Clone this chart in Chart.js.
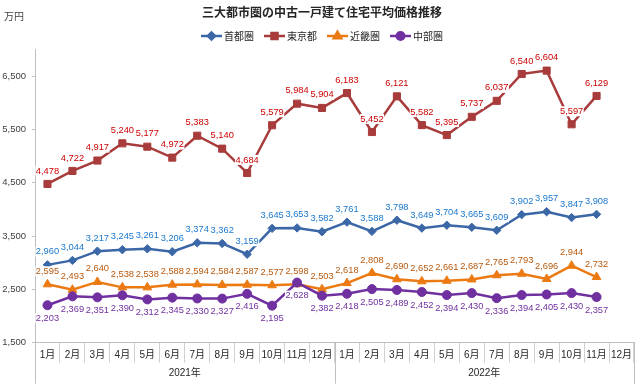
<!DOCTYPE html>
<html lang="ja">
<head>
<meta charset="UTF-8">
<title>三大都市圏の中古一戸建て住宅平均価格推移</title>
<script src="https://cdn.jsdelivr.net/npm/chart.js"></script>
<style>
  html, body { margin: 0; padding: 0; background: #fff; }
  #wrap { width: 640px; height: 391px; }
</style>
</head>
<body>
<div id="wrap"><canvas id="chart" width="640" height="391"></canvas></div>
<script>
// ---- data ----
const months = ['1月', '2月', '3月', '4月', '5月', '6月', '7月', '8月', '9月', '10月', '11月', '12月'];
const years = ['2021年', '2022年'];
const categories = months.concat(months);
const seriesNames = ['首都圏', '東京都', '近畿圏', '中部圏'];

const shutoken = [2960, 3044, 3217, 3245, 3261, 3206, 3374, 3362, 3159, 3645, 3653, 3582,
                  3761, 3588, 3798, 3649, 3704, 3665, 3609, 3902, 3957, 3847, 3908, null];
const tokyo    = [4478, 4722, 4917, 5240, 5177, 4972, 5383, 5140, 4684, 5579, 5984, 5904,
                  6183, 5452, 6121, 5582, 5395, 5737, 6037, 6540, 6604, 5597, 6129, null];
const kinki    = [2595, 2493, 2640, 2538, 2538, 2588, 2594, 2584, 2587, 2577, 2598, 2503,
                  2618, 2808, 2690, 2652, 2661, 2687, 2765, 2793, 2696, 2944, 2732, null];
const chubu    = [2203, 2369, 2351, 2390, 2312, 2345, 2330, 2327, 2416, 2195, 2628, 2382,
                  2418, 2505, 2489, 2452, 2394, 2430, 2336, 2394, 2405, 2430, 2357, null];

const yTicks = [1500, 2500, 3500, 4500, 5500, 6500];
const yMin = 1500;
const yMax = 7000;

// ---- styles ----
const NUM_FONT = "'Liberation Sans', Arial, 'Noto Sans CJK JP', sans-serif";
const JP_FONT = "'Noto Sans CJK JP', 'Noto Sans', sans-serif";
const lineColors  = ['#3B67A7', '#A83B3B', '#EC7A12', '#7030A0'];
const labelColors = ['#1A78CF', '#CC0000', '#B8590E', '#7030A0'];
const markers = ['rectRot', 'rect', 'triangle', 'circle'];
const radii = [4.2, 5, 5, 4.5];
const labelSide = [-1, -1, -1, 1];   // -1 above, 1 below
const seriesData = [shutoken, tokyo, kinki, chubu];

const fmt = v => v.toLocaleString('en-US');

// data labels with white box behind (like the Excel original)
const dataLabels = {
  id: 'dataLabels',
  afterDatasetsDraw(chart) {
    const ctx = chart.ctx;
    ctx.save();
    ctx.font = '9.3px ' + NUM_FONT;
    ctx.textAlign = 'center';
    ctx.textBaseline = 'middle';
    chart.data.datasets.forEach((ds, di) => {
      const meta = chart.getDatasetMeta(di);
      meta.data.forEach((pt, i) => {
        const v = ds.data[i];
        if (v == null) return;
        const txt = fmt(v);
        const x = pt.x;
        const y = pt.y + labelSide[di] * 13;
        const w = ctx.measureText(txt).width + 1;
        ctx.fillStyle = '#fff';
        ctx.fillRect(x - w / 2, y - 5, w, 10);
        ctx.fillStyle = labelColors[di];
        ctx.fillText(txt, x, y);
      });
    });
    ctx.restore();
  }
};

// title, unit, legend, year row
const decor = {
  id: 'decor',
  afterDraw(chart) {
    const ctx = chart.ctx;
    const area = chart.chartArea;
    const xs = chart.scales.x;
    ctx.save();

    // title
    ctx.fillStyle = '#262626';
    ctx.font = 'bold 12px ' + JP_FONT;
    ctx.textAlign = 'center';
    ctx.textBaseline = 'middle';
    ctx.fillText('三大都市圏の中古一戸建て住宅平均価格推移', 322, 12);

    // unit
    ctx.font = '10px ' + JP_FONT;
    ctx.textAlign = 'left';
    ctx.fillStyle = '#404040';
    ctx.fillText('万円', 4, 16);

    // legend
    ctx.font = '10px ' + JP_FONT;
    const sw = 21, gap = 2, sep = 10;
    const widths = seriesNames.map(n => sw + gap + ctx.measureText(n).width);
    const total = widths.reduce((a, b) => a + b, 0) + sep * (seriesNames.length - 1);
    let lx = 322 - total / 2;
    const ly = 36;
    seriesNames.forEach((name, i) => {
      ctx.strokeStyle = lineColors[i];
      ctx.lineWidth = 2.5;
      ctx.beginPath();
      ctx.moveTo(lx, ly);
      ctx.lineTo(lx + sw, ly);
      ctx.stroke();
      Chart.helpers.drawPoint(ctx, {
        pointStyle: markers[i], radius: radii[i] * 0.85, borderWidth: 1
      }, lx + sw / 2, ly);
      ctx.fillStyle = lineColors[i];
      Chart.helpers.drawPoint(ctx, {
        pointStyle: markers[i], radius: radii[i] * 0.85, borderWidth: 0
      }, lx + sw / 2, ly);
      ctx.fill();
      ctx.fillStyle = '#262626';
      ctx.textAlign = 'left';
      ctx.fillText(name, lx + sw + gap, ly);
      lx += widths[i] + sep;
    });

    // year row: long separators + year labels
    const mid = (xs.getPixelForValue(11) + xs.getPixelForValue(12)) / 2;
    const bounds = [area.left, mid, area.right];
    ctx.strokeStyle = '#bfbfbf';
    ctx.lineWidth = 1;
    bounds.forEach(bx => {
      const px = Math.round(bx) + 0.5;
      ctx.beginPath();
      ctx.moveTo(px, area.bottom);
      ctx.lineTo(px, area.bottom + 41);
      ctx.stroke();
    });
    ctx.fillStyle = '#262626';
    ctx.font = '10px ' + NUM_FONT;
    ctx.textAlign = 'center';
    ctx.fillText(years[0], (area.left + mid) / 2, area.bottom + 31);
    ctx.fillText(years[1], (mid + area.right) / 2, area.bottom + 31);
    ctx.restore();
  }
};

const datasets = seriesData.map((d, i) => ({
  label: seriesNames[i],
  data: d,
  borderColor: lineColors[i],
  backgroundColor: lineColors[i],
  borderWidth: 2.5,
  pointStyle: markers[i],
  pointRadius: radii[i],
  pointBorderWidth: 1,
  pointBackgroundColor: lineColors[i],
  pointBorderColor: lineColors[i],
  tension: 0,
  spanGaps: false,
  order: 3 - i
}));

new Chart(document.getElementById('chart'), {
  type: 'line',
  data: { labels: categories, datasets: datasets },
  options: {
    responsive: false,
    animation: false,
    devicePixelRatio: 1,
    layout: { padding: { top: 49.5, right: 6, left: 0, bottom: 0 } },
    plugins: {
      legend: { display: false },
      title: { display: false },
      tooltip: { enabled: false }
    },
    scales: {
      x: {
        type: 'category',
        offset: true,
        grid: { offset: true, drawOnChartArea: false, tickLength: 20, color: '#d0d0d0' },
        border: { color: '#bfbfbf' },
        ticks: {
          autoSkip: false, maxRotation: 0, padding: -13,
          color: '#262626', font: { size: 10, family: NUM_FONT }
        },
        afterFit(scale) { scale.height = 48.3; }
      },
      y: {
        min: yMin,
        max: yMax,
        grid: { drawOnChartArea: false, tickLength: 3, color: '#bfbfbf' },
        border: { color: '#bfbfbf' },
        ticks: {
          padding: 6,
          color: '#404040',
          font: { size: 9.5, family: NUM_FONT },
          callback: v => fmt(v)
        },
        afterBuildTicks(scale) { scale.ticks = yTicks.map(v => ({ value: v })); },
        afterFit(scale) { scale.width = 35; }
      }
    }
  },
  plugins: [dataLabels, decor]
});
</script>
</body>
</html>
